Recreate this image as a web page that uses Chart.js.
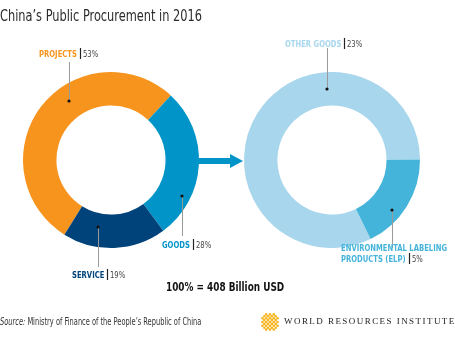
<!DOCTYPE html>
<html>
<head>
<meta charset="utf-8">
<script src="https://cdn.jsdelivr.net/npm/chart.js@4.4.0/dist/chart.umd.min.js"></script>
<style>
  html, body { margin: 0; padding: 0; background: #fff; }
  #wrap { position: relative; width: 455px; height: 338px; overflow: hidden; }
  canvas { position: absolute; left: 0; top: 0; }
  .txt { position: absolute; white-space: nowrap; color: #222; font-family: "DejaVu Sans Condensed", Roboto, sans-serif; transform-origin: 0 0; }
  #title { left: 0; top: 6px; font-size: 16px; color: #2b2b2b; transform: scaleX(0.79); }
  #total { left: 166px; top: 279px; font-size: 12.5px; font-weight: bold; color: #111; transform: scaleX(0.79); }
  #source { left: 0; top: 316px; font-size: 10px; color: #333; transform: scaleX(0.74); }
  #wri { left: 284px; top: 316px; font-family: "Liberation Serif", "DejaVu Serif", serif; font-size: 9px; letter-spacing: 1.45px; color: #222; }
</style>
</head>
<body>
<div id="wrap">
  <canvas id="leftChart" width="455" height="338"></canvas>
  <canvas id="rightChart" width="455" height="338"></canvas>
  <canvas id="logo" width="20" height="20" style="left:260px;top:312px"></canvas>
  <div class="txt" id="title">China’s Public Procurement in 2016</div>
  <div class="txt" id="total">100% = 408 Billion USD</div>
  <div class="txt" id="source"><i>Source:</i> Ministry of Finance of the People’s Republic of China</div>
  <div class="txt" id="wri">WORLD RESOURCES INSTITUTE</div>
</div>
<script>
(function(){
  // data
  const procLabels = ["PROJECTS", "GOODS", "SERVICE"];
  const procShares = [53, 28, 19];
  const procColors = ["#F7941D", "#0094C9", "#00427A"];

  const goodsLabels = ["OTHER GOODS", "ENVIRONMENTAL LABELING|PRODUCTS (ELP)"];
  const goodsShares = [23, 5];
  const goodsColors = ["#A8D6EC", "#45B4DA"];

  const FONT = '"DejaVu Sans Condensed", Roboto, sans-serif';
  const SQUEEZE = 0.8;

  // callout layout: dot offset from ring centre, end of leader line, label origin
  const procCallouts = [
    { dx: -42, dy: -59, lineTo: 62,  nameX: 39,  baseY: 57 },
    { dx: 71,  dy: 36,  lineTo: 236, nameX: 162, baseY: 248 },
    { dx: -13, dy: 67,  lineTo: 267, nameX: 72,  baseY: 278 }
  ];
  const goodsCallouts = [
    { dx: -5,  dy: -71, lineTo: 48,  nameX: 285, baseY: 47 },
    { dx: 60,  dy: 50,  lineTo: 248, nameX: 341, baseY: 262 }
  ];

  function squeezedText(ctx, text, x, y) {
    ctx.save();
    ctx.translate(x, y);
    ctx.scale(SQUEEZE, 1);
    ctx.fillText(text, 0, 0);
    ctx.restore();
    return ctx.measureText(text).width * SQUEEZE;
  }

  const calloutPlugin = {
    id: "callouts",
    afterDraw(chart, args, opts) {
      const ctx = chart.ctx;
      const meta = chart.getDatasetMeta(0);
      const ds = chart.data.datasets[0];
      meta.data.forEach((arc, i) => {
        const c = opts.items[i];
        const px = arc.x + c.dx, py = arc.y + c.dy;
        ctx.save();
        // leader line
        ctx.strokeStyle = "#9a9a9a";
        ctx.lineWidth = 1;
        ctx.beginPath();
        ctx.moveTo(px + 0.5, py);
        ctx.lineTo(px + 0.5, c.lineTo);
        ctx.stroke();
        // dot
        ctx.fillStyle = "#111";
        ctx.beginPath();
        ctx.arc(px, py, 1.6, 0, Math.PI * 2);
        ctx.fill();
        // label text
        const lines = chart.data.labels[i].split("|");
        ctx.font = "bold 9.5px " + FONT;
        ctx.fillStyle = ds.backgroundColor[i];
        ctx.textBaseline = "alphabetic";
        const y = c.baseY - (lines.length - 1) * 11;
        let lastW = 0;
        lines.forEach((ln, k) => {
          lastW = squeezedText(ctx, ln, c.nameX, y + k * 11);
        });
        const by = c.baseY;
        const barX = Math.round(c.nameX + lastW + 3) + 0.5;
        ctx.strokeStyle = "#222";
        ctx.lineWidth = 1.2;
        ctx.beginPath();
        ctx.moveTo(barX, by - 9);
        ctx.lineTo(barX, by + 2);
        ctx.stroke();
        ctx.font = "9.5px " + FONT;
        ctx.fillStyle = "#444";
        squeezedText(ctx, ds.data[i] + "%", barX + 2.5, by);
        ctx.restore();
      });
    }
  };

  const arrowPlugin = {
    id: "arrow",
    afterDraw(chart) {
      const ctx = chart.ctx;
      const a = chart.getDatasetMeta(0).data[0];
      const x0 = a.x + a.outerRadius - 1, y0 = a.y + 1;
      ctx.save();
      ctx.fillStyle = "#0094C9";
      ctx.fillRect(x0, y0 - 3, 34, 6);
      ctx.beginPath();
      ctx.moveTo(x0 + 32, y0 - 7);
      ctx.lineTo(x0 + 45, y0);
      ctx.lineTo(x0 + 32, y0 + 7);
      ctx.closePath();
      ctx.fill();
      ctx.restore();
    }
  };

  function makeDonut(id, labels, data, colors, rotation, padding, callouts, extra) {
    return new Chart(document.getElementById(id), {
      type: "doughnut",
      data: {
        labels: labels,
        datasets: [{ data: data, backgroundColor: colors, borderWidth: 0 }]
      },
      options: {
        responsive: false,
        animation: false,
        cutout: "62%",
        rotation: rotation,
        layout: { padding: padding },
        events: [],
        plugins: {
          legend: { display: false },
          tooltip: { enabled: false },
          callouts: { items: callouts }
        }
      },
      plugins: [calloutPlugin].concat(extra || [])
    });
  }

  makeDonut("leftChart", procLabels, procShares, procColors, -148,
    { left: 23, top: 72, right: 256, bottom: 90 }, procCallouts, [arrowPlugin]);
  makeDonut("rightChart", goodsLabels, goodsShares, goodsColors, 154,
    { left: 244, top: 72, right: 35, bottom: 90 }, goodsCallouts);

  // WRI mark
  const lg = document.getElementById("logo").getContext("2d");
  lg.fillStyle = "#F6B51E";
  for (let r = -3; r <= 3; r++) {
    for (let q = -3; q <= 3; q++) {
      if (Math.abs(r) + Math.abs(q) > 4) continue;
      lg.beginPath();
      lg.arc(10 + (q - r) * 1.9, 10 + (q + r) * 1.9, 1.3, 0, Math.PI * 2);
      lg.fill();
    }
  }
})();
</script>
</body>
</html>
